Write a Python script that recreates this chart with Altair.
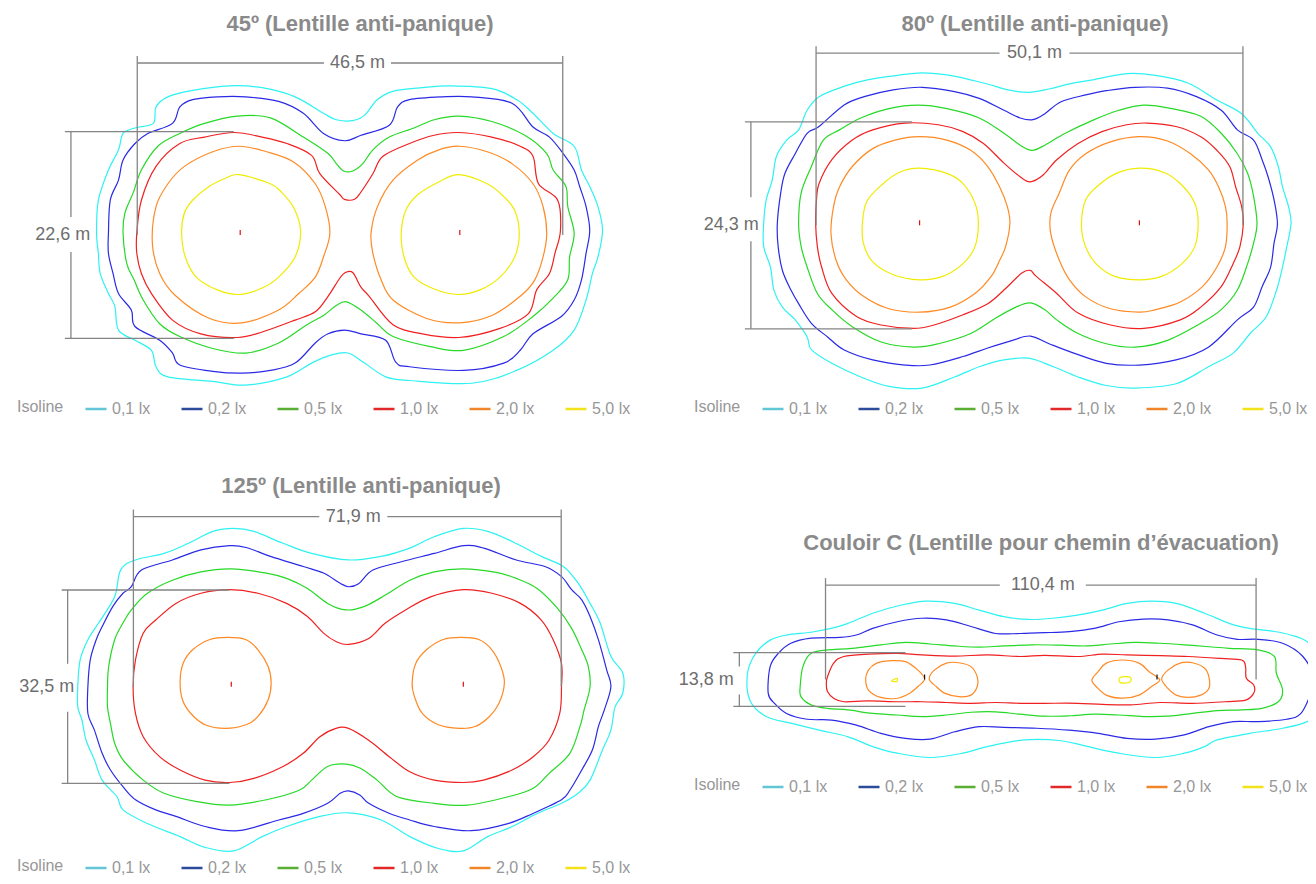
import altair as alt
import pandas as pd

# ---------------- data (metres, origin = midpoint between the two luminaires) -------------
LEVELS = ["0,1 lx", "0,2 lx", "0,5 lx", "1,0 lx", "2,0 lx", "5,0 lx"]
LINE_COLORS = ["#2ef2f2", "#2a2ae6", "#26d926", "#f02020", "#ff8a24", "#f0ec00"]
LEGEND_COLORS = ["#62c6d6", "#2c4b9b", "#5aae34", "#e3282a", "#f0852a", "#f2e21a"]

TITLES = ["45º (Lentille anti-panique)", "80º (Lentille anti-panique)",
          "125º (Lentille anti-panique)", "Couloir C (Lentille pour chemin d\u2019évacuation)"]
WIDTHS_M = [46.5, 50.1, 71.9, 110.4]
HEIGHTS_M = [22.6, 24.3, 32.5, 13.8]
LUMINAIRE_X = [12.0, 12.9, 19.5, 29.8]

# ---- panel A : 45 deg
A_01 = [(-27.7,0.2),(-27.5,3.8),(-26.4,7.1),(-25.3,9.3),(-24.8,11.1),(-23.5,11.7),(-21.5,12.2),(-21.2,14.0),(-19.9,15.1),(-17.2,15.8),(-13.2,16.3),(-9.6,16.1),(-6.0,15.1),(-2.9,13.3),(-1.5,12.6),(0.3,12.5),(1.6,13.1),(3.0,14.8),(4.7,15.7),(7.9,16.1),(11.0,16.3),(15.5,16.0),(18.2,14.8),(20.0,13.3),(22.2,11.1),(24.5,9.7),(25.3,7.1),(26.2,5.3),(27.1,3.1),(27.6,0.5),(27.1,-2.4),(26.5,-4.2),(25.8,-7.1),(24.5,-10.4),(22.2,-12.6),(18.2,-14.8),(13.3,-16.2),(6.5,-15.9),(3.9,-15.5),(1.6,-14.0),(-0.2,-12.9),(-2.0,-13.1),(-4.2,-14.0),(-6.9,-15.5),(-11.4,-16.4),(-15.0,-16.0),(-19.9,-15.5),(-21.2,-14.4),(-21.7,-12.6),(-23.5,-11.5),(-25.3,-10.4),(-25.7,-7.8),(-26.4,-6.4),(-27.3,-4.2),(-27.5,-2.0)]
A_02 = [(-26.4,0.2),(-26.2,3.8),(-25.3,6.0),(-24.8,8.2),(-23.5,10.0),(-22.1,11.1),(-19.4,12.2),(-18.6,14.0),(-17.2,14.8),(-14.5,15.1),(-11.4,15.1),(-7.8,14.6),(-5.1,13.3),(-2.9,11.1),(-0.6,10.3),(1.2,10.9),(4.3,12.0),(5.2,14.0),(6.5,14.8),(10.1,15.1),(13.3,15.1),(17.7,14.4),(20.0,11.8),(21.8,10.7),(23.3,8.9),(24.5,7.1),(25.1,5.3),(25.8,3.1),(26.2,0.5),(25.8,-2.0),(25.3,-4.9),(24.5,-7.1),(23.1,-8.9),(20.0,-10.8),(18.6,-12.6),(16.8,-14.0),(12.4,-14.8),(6.5,-14.4),(5.0,-13.9),(3.9,-11.5),(1.2,-10.8),(-0.6,-10.4),(-2.4,-10.8),(-3.8,-11.8),(-6.0,-14.0),(-8.7,-14.8),(-11.8,-15.1),(-15.0,-14.9),(-18.6,-14.2),(-19.4,-12.9),(-20.8,-11.5),(-23.5,-10.0),(-23.9,-8.2),(-25.3,-6.4),(-25.9,-4.2),(-26.4,-2.0)]
A_05 = [(-24.8,0.2),(-24.6,2.4),(-23.7,4.6),(-22.8,7.1),(-21.0,9.7),(-18.6,11.1),(-15.9,12.2),(-12.3,13.0),(-8.7,12.8),(-5.1,10.7),(-2.4,8.9),(-1.5,7.8),(-0.7,7.0),(0.3,7.0),(1.4,7.8),(2.5,9.3),(4.3,10.7),(7.0,11.7),(9.2,12.6),(11.9,13.0),(15.5,12.4),(19.1,10.9),(21.5,8.9),(22.2,7.1),(23.6,5.3),(23.8,3.1),(24.5,0.2),(24.0,-2.4),(23.8,-4.9),(22.2,-6.9),(20.0,-8.9),(16.8,-11.1),(12.4,-12.6),(8.8,-12.2),(4.7,-11.1),(3.0,-9.7),(1.2,-8.2),(-0.4,-7.3),(-1.5,-7.7),(-2.9,-8.8),(-4.7,-9.8),(-7.8,-11.8),(-11.4,-12.9),(-15.0,-12.4),(-18.6,-11.1),(-20.8,-9.7),(-22.6,-7.1),(-23.6,-4.9),(-24.4,-3.1)]
A_10 = [(-23.3,0.2),(-22.8,3.8),(-21.2,7.5),(-18.6,10.0),(-15.9,10.7),(-12.7,11.2),(-9.6,10.7),(-6.9,10.0),(-4.2,8.7),(-3.3,6.7),(-1.1,4.4),(-0.6,3.9),(0.5,3.9),(1.2,4.7),(2.5,6.7),(3.6,8.6),(6.5,10.0),(9.2,10.9),(11.9,11.2),(15.5,10.7),(18.6,9.7),(20.0,8.6),(20.6,5.6),(22.7,3.8),(23.0,0.5),(22.4,-2.0),(21.8,-4.2),(20.4,-6.0),(19.5,-8.6),(16.4,-10.2),(11.9,-11.2),(7.9,-10.8),(4.7,-9.8),(2.1,-6.7),(1.2,-5.7),(0.3,-4.1),(-0.5,-4.1),(-1.1,-4.7),(-2.4,-6.7),(-3.8,-8.4),(-6.0,-9.3),(-9.6,-10.6),(-12.3,-11.2),(-16.3,-10.8),(-19.4,-9.3),(-21.7,-6.4),(-22.8,-4.2),(-23.3,-2.0)]
A_20_L = [(-12.1,9.7),(-9.1,9.1),(-6.2,8.0),(-3.8,5.6),(-2.7,3.1),(-2.2,0.2),(-2.9,-2.4),(-3.8,-4.6),(-5.6,-6.4),(-7.8,-8.2),(-11.8,-9.6),(-15.4,-9.1),(-19.0,-6.7),(-20.8,-4.2),(-21.6,-0.9),(-21.2,3.1),(-19.9,5.6),(-18.1,7.5),(-15.0,9.1)]
A_20_R = [(11.9,9.7),(15.0,9.1),(17.7,7.8),(20.0,5.6),(21.1,3.1),(21.5,0.2),(21.1,-2.4),(20.2,-4.9),(18.6,-6.7),(15.5,-8.8),(11.9,-9.6),(8.3,-9.1),(4.7,-7.1),(3.4,-4.9),(2.5,-2.0),(2.3,0.2),(3.0,3.1),(4.7,6.0),(7.4,8.2),(9.7,9.3)]
A_50_L = [(-12.1,6.6),(-8.7,5.6),(-7.4,4.6),(-6.1,2.9),(-5.4,0.4),(-6.0,-2.4),(-7.8,-4.6),(-9.6,-5.8),(-12.1,-6.5),(-14.5,-6.0),(-16.8,-4.6),(-18.0,-2.4),(-18.4,0.2),(-18.1,2.4),(-17.2,3.8),(-15.4,5.3),(-13.6,6.2)]
A_50_R = [(11.9,6.6),(15.0,5.6),(16.8,4.2),(18.0,2.7),(18.5,0.2),(18.0,-2.4),(16.4,-4.6),(14.2,-6.0),(11.8,-6.5),(9.2,-5.9),(7.0,-4.6),(5.9,-2.4),(5.6,0.2),(6.1,2.7),(7.4,4.4),(9.7,5.8)]

# ---- panel B : 80 deg
B_01 = [(-31.2,0.2),(-30.9,3.0),(-30.2,5.3),(-29.7,8.1),(-28.5,10.0),(-27.1,11.2),(-26.1,13.5),(-24.7,15.1),(-21.8,16.3),(-18.9,17.1),(-15.5,17.6),(-12.6,17.9),(-9.3,17.6),(-5.4,16.7),(-2.5,15.9),(-0.1,15.6),(2.3,16.0),(4.7,16.6),(7.6,17.1),(11.4,17.8),(14.8,17.6),(18.6,16.7),(22.0,14.7),(24.9,13.1),(26.8,10.8),(28.3,9.2),(29.2,6.9),(29.7,4.5),(30.4,2.2),(30.7,0.2),(30.2,-2.5),(29.7,-4.9),(29.0,-7.6),(27.8,-10.7),(25.9,-12.7),(23.9,-15.0),(21.0,-16.6),(17.2,-18.6),(12.4,-19.1),(9.0,-18.8),(5.7,-17.8),(2.8,-16.6),(-0.1,-15.6),(-3.0,-15.8),(-5.9,-16.6),(-8.8,-17.8),(-12.6,-19.1),(-16.5,-18.9),(-19.8,-17.8),(-23.2,-16.2),(-25.6,-14.6),(-26.1,-13.1),(-27.5,-11.1),(-29.0,-9.6),(-30.0,-7.6),(-30.4,-4.9),(-31.2,-2.5)]
B_02 = [(-29.6,0.2),(-29.2,3.8),(-28.7,6.1),(-27.5,8.4),(-26.1,10.8),(-24.7,11.6),(-21.8,14.1),(-19.4,15.1),(-16.0,15.9),(-12.6,16.2),(-8.8,15.7),(-5.9,14.9),(-3.0,13.5),(-1.1,12.6),(0.4,12.4),(1.8,13.1),(3.7,14.5),(6.6,15.3),(9.0,15.8),(12.4,16.2),(16.2,16.1),(19.6,15.1),(22.5,13.5),(24.4,11.2),(26.3,10.0),(27.3,7.7),(28.0,5.7),(28.7,3.0),(29.1,0.2),(28.7,-2.1),(28.3,-4.9),(27.3,-7.2),(26.3,-9.6),(24.4,-11.1),(21.0,-14.3),(17.2,-15.8),(12.9,-16.4),(9.0,-16.2),(5.2,-15.0),(2.3,-13.9),(0.1,-13.0),(-2.0,-13.5),(-4.9,-14.4),(-7.8,-15.4),(-11.7,-16.4),(-14.6,-16.4),(-18.4,-15.8),(-21.8,-14.6),(-23.7,-13.1),(-25.6,-11.5),(-27.1,-9.2),(-28.0,-7.6),(-29.0,-5.3),(-29.5,-2.5)]
B_05 = [(-27.1,0.2),(-26.8,3.8),(-25.6,6.9),(-24.2,10.0),(-22.3,11.2),(-19.8,12.6),(-16.5,13.7),(-13.1,14.1),(-9.7,13.7),(-5.9,12.6),(-3.0,10.8),(-1.1,9.4),(0.3,8.8),(1.8,9.4),(4.2,10.8),(7.6,12.4),(10.5,13.5),(13.4,14.1),(16.7,13.7),(20.1,12.8),(22.5,10.8),(24.4,8.4),(25.6,6.1),(26.3,3.4),(26.7,0.2),(26.3,-2.1),(25.6,-4.5),(24.4,-7.6),(22.5,-9.9),(20.1,-11.5),(16.2,-13.5),(12.4,-14.3),(9.0,-13.9),(5.7,-12.7),(3.2,-11.1),(1.8,-9.9),(0.1,-9.1),(-1.6,-9.6),(-4.0,-10.9),(-6.9,-12.7),(-10.7,-13.9),(-13.6,-14.3),(-17.4,-13.7),(-20.8,-11.9),(-23.2,-9.9),(-24.9,-8.0),(-26.1,-4.9),(-26.8,-2.5)]
B_10 = [(-25.1,0.2),(-25.0,3.0),(-24.7,4.9),(-23.2,7.7),(-20.8,10.0),(-18.4,11.2),(-14.6,12.0),(-10.7,11.8),(-7.8,11.0),(-5.4,9.6),(-3.0,7.3),(-1.1,5.7),(0.1,5.1),(1.6,5.9),(3.2,7.7),(5.7,9.6),(8.5,11.0),(11.4,11.8),(13.8,12.0),(17.2,11.6),(20.1,10.4),(22.0,8.8),(23.5,6.9),(24.2,4.5),(24.9,2.2),(25.1,0.2),(24.7,-2.5),(23.9,-4.5),(22.5,-7.2),(20.1,-9.6),(17.7,-11.1),(13.4,-12.1),(9.5,-11.7),(5.7,-10.3),(3.2,-8.0),(0.8,-6.0),(0.1,-5.3),(-0.9,-5.6),(-3.0,-7.6),(-4.9,-9.2),(-7.8,-10.5),(-11.2,-11.7),(-13.6,-12.1),(-17.4,-11.7),(-20.3,-10.7),(-23.2,-8.0),(-24.4,-4.9),(-24.9,-2.5)]
B_20_L = [(-12.9,10.4),(-9.7,10.0),(-6.9,8.8),(-4.9,6.9),(-3.5,4.5),(-2.6,2.2),(-2.3,0.2),(-2.8,-2.5),(-3.5,-4.1),(-4.5,-6.0),(-6.4,-8.0),(-9.3,-9.6),(-12.9,-10.2),(-16.5,-9.8),(-19.4,-8.4),(-21.5,-6.4),(-22.7,-4.1),(-23.3,-1.0),(-23.0,2.2),(-22.3,4.5),(-20.8,6.9),(-18.4,9.0),(-15.8,10.0)]
B_20_R = [(12.9,10.4),(16.2,9.9),(18.9,8.4),(21.0,6.5),(22.2,4.5),(23.0,2.2),(23.2,0.2),(23.0,-2.5),(22.0,-4.9),(20.3,-7.2),(17.7,-9.0),(14.8,-9.9),(12.9,-10.2),(9.5,-9.8),(6.6,-8.4),(4.7,-6.4),(3.5,-4.1),(2.5,-1.0),(2.5,1.4),(3.5,3.8),(4.7,6.5),(6.6,8.4),(9.5,9.8)]
B_50_L = [(-12.9,6.7),(-9.7,6.1),(-7.8,4.9),(-6.4,2.6),(-6.0,0.2),(-6.4,-2.5),(-7.8,-4.5),(-10.2,-6.0),(-12.9,-6.4),(-16.0,-5.8),(-18.4,-4.3),(-19.5,-2.1),(-19.6,0.4),(-19.1,2.8),(-17.4,4.7),(-15.3,6.2)]
B_50_R = [(12.9,6.7),(15.8,6.2),(17.9,4.7),(19.4,2.6),(19.8,0.2),(19.4,-2.5),(17.9,-4.5),(15.5,-6.0),(12.9,-6.4),(10.0,-6.0),(7.8,-4.5),(6.5,-2.3),(6.1,0.2),(6.6,3.0),(8.1,4.7),(10.2,6.1)]

# ---- panel C : 125 deg
C_01 = [(-45.3,0.0),(-44.9,4.5),(-43.6,7.9),(-41.8,10.7),(-39.1,15.1),(-38.1,19.6),(-35.6,21.3),(-30.8,22.4),(-26.7,24.1),(-22.6,26.1),(-19.1,26.6),(-15.7,26.1),(-10.8,24.1),(-6.0,22.4),(0.2,21.3),(5.7,21.9),(10.5,23.3),(14.6,25.2),(19.5,26.6),(23.6,26.1),(27.7,24.4),(32.6,21.9),(36.3,20.2),(38.8,17.4),(40.8,14.0),(42.5,10.7),(44.3,5.1),(46.3,2.3),(46.3,-1.1),(45.0,-3.4),(44.3,-7.3),(42.9,-10.6),(40.8,-15.7),(38.8,-17.9),(36.0,-19.6),(31.9,-21.3),(27.7,-23.5),(23.6,-25.2),(19.5,-27.6),(15.3,-27.2),(10.5,-25.2),(5.7,-22.4),(0.2,-21.2),(-4.6,-21.8),(-10.2,-23.5),(-14.3,-25.2),(-19.1,-27.6),(-23.9,-27.0),(-28.1,-25.2),(-33.6,-23.0),(-37.7,-20.7),(-38.7,-18.5),(-41.2,-15.7),(-42.5,-12.3),(-43.9,-9.0),(-44.6,-5.6),(-45.3,-3.4)]
C_02 = [(-43.6,0.0),(-43.2,4.5),(-42.2,7.9),(-41.2,10.1),(-39.4,13.5),(-37.7,15.7),(-36.3,16.8),(-34.6,19.6),(-29.4,21.3),(-24.6,23.0),(-19.8,23.7),(-17.0,23.4),(-12.9,21.9),(-7.4,20.2),(-4.0,19.1),(-1.2,17.4),(0.2,16.8),(1.9,17.3),(4.3,19.6),(9.1,21.0),(14.6,22.4),(19.5,23.7),(22.9,23.3),(28.4,21.3),(33.2,20.2),(36.0,18.5),(37.7,16.3),(39.4,14.6),(40.8,11.8),(42.2,7.9),(43.6,2.8),(44.3,0.0),(43.2,-3.9),(42.2,-6.7),(41.2,-10.6),(39.4,-14.0),(37.4,-17.4),(36.0,-19.0),(31.2,-21.3),(27.0,-23.0),(20.8,-24.2),(14.6,-23.5),(10.5,-22.4),(7.1,-21.3),(3.6,-19.6),(2.1,-18.2),(0.2,-17.5),(-1.2,-17.9),(-3.3,-19.6),(-7.4,-21.3),(-11.5,-22.4),(-18.4,-24.2),(-23.9,-23.5),(-28.8,-21.8),(-32.2,-20.7),(-35.6,-19.0),(-37.7,-16.8),(-39.8,-14.0),(-41.2,-11.2),(-42.5,-7.3),(-43.6,-4.5)]
C_05 = [(-40.3,0.0),(-40.1,3.4),(-39.1,7.9),(-37.7,10.7),(-36.3,12.9),(-33.6,15.7),(-29.4,17.9),(-24.6,19.3),(-19.5,19.8),(-13.6,19.1),(-10.2,18.2),(-6.7,16.5),(-3.3,14.0),(-0.2,12.9),(2.9,13.5),(6.4,15.4),(10.5,17.9),(14.6,19.3),(19.5,19.8),(25.0,19.2),(28.4,18.2),(31.9,16.5),(35.3,13.2),(37.7,9.8),(39.4,6.2),(40.5,3.4),(40.8,0.0),(39.8,-3.9),(39.1,-6.7),(37.4,-11.2),(33.9,-14.6),(31.2,-17.1),(27.0,-18.5),(20.2,-19.9),(14.6,-19.6),(8.4,-18.5),(5.0,-15.7),(2.2,-13.7),(-0.2,-13.0),(-3.3,-13.4),(-6.0,-15.7),(-8.1,-17.4),(-13.6,-19.0),(-19.8,-19.9),(-25.3,-19.3),(-30.8,-17.9),(-34.3,-15.7),(-37.7,-12.3),(-39.1,-9.5),(-39.8,-6.2),(-40.3,-3.4)]
C_10 = [(-36.0,0.0),(-35.6,4.5),(-34.3,9.0),(-32.2,11.2),(-28.8,14.0),(-24.6,15.7),(-19.8,16.3),(-15.0,15.7),(-10.2,14.0),(-6.7,11.8),(-4.0,9.0),(-1.9,7.6),(0.2,7.1),(3.6,8.1),(6.4,10.7),(9.8,12.9),(14.0,15.1),(19.5,16.3),(24.3,15.7),(29.1,14.0),(32.6,11.2),(34.6,7.9),(36.0,3.9),(36.0,0.0),(35.7,-4.5),(33.9,-9.0),(31.2,-11.8),(27.7,-14.0),(22.9,-15.7),(19.5,-16.1),(14.6,-15.7),(10.5,-14.3),(7.1,-11.8),(3.6,-9.0),(0.2,-7.0),(-1.9,-7.0),(-4.6,-8.4),(-7.4,-11.2),(-10.8,-13.4),(-15.7,-15.4),(-19.8,-16.1),(-23.9,-15.7),(-28.1,-14.0),(-31.5,-11.8),(-34.3,-8.4),(-35.6,-4.5)]
C_20_L = [(-20.1,8.3),(-17.0,7.9),(-15.0,6.2),(-13.3,3.4),(-12.8,0.6),(-13.3,-2.2),(-15.0,-5.0),(-17.0,-6.4),(-20.5,-7.0),(-23.9,-6.4),(-26.3,-4.5),(-27.7,-2.2),(-28.1,0.9),(-27.6,3.9),(-26.0,6.2),(-23.2,7.9)]
C_20_R = [(19.1,8.3),(22.2,7.9),(24.3,6.2),(25.8,3.4),(26.4,0.6),(25.5,-2.8),(23.9,-5.0),(21.5,-6.7),(18.8,-7.0),(15.3,-6.4),(12.6,-4.5),(11.3,-1.7),(10.9,0.6),(11.5,3.9),(13.3,6.2),(16.0,7.9)]

# ---- panel D : corridor
D_01 = [(-75.2,1.6),(-73.1,6.7),(-69.4,10.1),(-65.2,11.4),(-57.8,12.3),(-50.5,14.0),(-43.1,17.0),(-35.7,19.1),(-29.4,20.1),(-22.1,19.5),(-15.8,17.8),(-9.5,16.1),(-3.2,15.4),(3.1,15.7),(9.4,16.5),(15.8,17.8),(22.1,19.5),(28.4,20.1),(34.7,19.5),(42.0,17.0),(48.3,14.4),(53.6,13.1),(59.9,12.3),(64.1,11.4),(68.3,9.7),(73.6,5.0),(76.2,-1.0),(73.6,-7.0),(68.3,-10.8),(62.0,-12.5),(53.6,-13.8),(45.2,-15.5),(42.0,-17.2),(36.8,-18.9),(29.4,-20.0),(20.0,-18.9),(11.6,-17.1),(5.2,-15.7),(-4.2,-15.5),(-13.7,-17.2),(-20.0,-18.9),(-28.4,-20.0),(-36.8,-18.9),(-43.1,-17.2),(-49.4,-14.7),(-56.8,-13.0),(-64.1,-11.2),(-70.4,-9.5),(-74.6,-5.3)]
D_02 = [(-69.9,-3.5),(-69.4,3.3),(-67.3,6.7),(-64.1,9.3),(-58.9,10.6),(-51.5,10.8),(-47.3,11.4),(-43.1,13.1),(-36.8,14.8),(-30.5,15.7),(-24.2,15.3),(-17.9,13.6),(-11.6,11.8),(-5.3,11.8),(1.0,12.0),(7.3,12.3),(13.7,13.1),(20.0,14.8),(26.3,15.5),(32.6,15.3),(38.9,14.0),(45.2,11.4),(50.4,10.3),(55.7,10.3),(62.0,9.3),(67.2,5.9),(70.4,-0.1),(69.3,-3.5),(66.7,-8.7),(63.0,-10.2),(55.7,-10.8),(49.4,-10.8),(43.1,-12.1),(36.8,-14.2),(29.4,-15.3),(22.1,-15.1),(14.7,-13.8),(7.3,-13.0),(-1.1,-12.5),(-9.5,-12.3),(-15.8,-12.1),(-22.1,-13.4),(-28.4,-15.3),(-34.7,-15.1),(-41.0,-13.8),(-47.3,-11.7),(-53.6,-10.4),(-59.9,-10.2),(-65.2,-8.7),(-68.3,-6.1)]
D_05 = [(-61.7,-1.8),(-61.0,3.3),(-58.9,6.7),(-54.7,7.6),(-48.4,8.0),(-41.0,8.9),(-34.7,9.5),(-28.4,9.1),(-22.1,8.6),(-15.8,8.3),(-9.5,8.6),(-2.1,8.9),(5.2,8.8),(11.6,8.6),(17.9,9.1),(24.2,9.5),(30.5,9.3),(36.8,8.9),(43.1,8.4),(48.3,8.0),(55.7,7.6),(59.9,5.9),(60.4,1.6),(62.0,-2.7),(60.9,-5.7),(56.7,-7.4),(51.5,-7.8),(45.2,-8.0),(38.9,-8.7),(32.6,-9.4),(26.3,-9.5),(20.0,-9.1),(13.7,-8.9),(7.3,-9.3),(1.0,-9.4),(-5.3,-8.9),(-11.6,-8.3),(-17.9,-8.4),(-24.2,-9.1),(-30.5,-9.5),(-36.8,-9.1),(-43.1,-8.7),(-49.4,-7.8),(-54.7,-7.4),(-58.9,-6.5),(-61.5,-4.4)]
D_10 = [(-55.0,-1.0),(-54.7,0.7),(-53.1,4.2),(-50.5,5.9),(-44.2,6.5),(-36.8,6.7),(-30.5,6.3),(-22.1,6.0),(-13.7,6.3),(-5.3,5.9),(1.0,6.2),(9.4,5.9),(15.8,6.5),(22.1,6.3),(30.5,6.1),(37.8,5.9),(46.2,5.4),(51.5,5.0),(52.5,3.3),(52.7,0.3),(54.6,-1.4),(54.6,-3.5),(52.5,-5.3),(47.3,-5.7),(38.9,-6.1),(30.5,-5.9),(23.1,-6.5),(15.8,-6.4),(9.4,-6.1),(1.0,-6.1),(-5.3,-6.1),(-11.6,-5.9),(-17.9,-6.1),(-24.2,-5.9),(-30.5,-5.7),(-36.8,-5.7),(-44.2,-5.5),(-50.5,-5.7),(-53.1,-4.8),(-54.7,-3.1)]
D_20_LL = [(-38.9,4.8),(-34.7,4.6),(-31.5,2.4),(-29.8,0.1),(-31.5,-1.8),(-33.6,-3.5),(-36.8,-4.8),(-41.0,-4.6),(-44.2,-2.7),(-44.9,0.1),(-44.2,2.4),(-42.1,4.2)]
D_20_LR = [(-28.6,0.1),(-27.3,2.4),(-24.2,4.2),(-21.0,4.3),(-17.9,3.3),(-16.3,0.7),(-16.3,-1.8),(-17.9,-4.0),(-21.0,-4.4),(-24.7,-3.5),(-26.8,-1.8)]
D_20_RL = [(21.0,5.0),(25.2,4.2),(27.8,2.0),(30.5,-0.1),(28.4,-1.8),(25.2,-4.0),(21.0,-4.8),(16.8,-4.0),(14.2,-1.8),(13.1,-0.1),(14.7,2.0),(16.8,4.2)]
D_20_RR = [(31.0,0.1),(32.6,2.4),(35.7,4.2),(38.9,4.3),(42.0,2.9),(43.1,0.7),(43.1,-2.3),(41.0,-4.0),(37.8,-4.6),(34.7,-4.0),(32.6,-2.3)]
D_50_L = [(-38.3,-0.4),(-36.9,0.3),(-36.9,-0.5)]
D_50_R = [(20.3,0.5),(22.9,0.6),(22.8,-0.7),(20.4,-0.8)]

CONTOURS = [
    {"0,1 lx": [A_01], "0,2 lx": [A_02], "0,5 lx": [A_05], "1,0 lx": [A_10],
     "2,0 lx": [A_20_L, A_20_R], "5,0 lx": [A_50_L, A_50_R]},
    {"0,1 lx": [B_01], "0,2 lx": [B_02], "0,5 lx": [B_05], "1,0 lx": [B_10],
     "2,0 lx": [B_20_L, B_20_R], "5,0 lx": [B_50_L, B_50_R]},
    {"0,1 lx": [C_01], "0,2 lx": [C_02], "0,5 lx": [C_05], "1,0 lx": [C_10],
     "2,0 lx": [C_20_L, C_20_R]},
    {"0,1 lx": [D_01], "0,2 lx": [D_02], "0,5 lx": [D_05], "1,0 lx": [D_10],
     "2,0 lx": [D_20_LL, D_20_LR, D_20_RL, D_20_RR], "5,0 lx": [D_50_L, D_50_R]},
]

# ---------------- layout (pixels / styling only) -------------------------------------------
W, H = 1300, 868
LAYOUT = [
    dict(s=9.15, cx=350.0, cy=235.0, hy=18.8, vx=-30.5, vend=-12.7, vlab=-31.4,
         hgap=(-26, 41), vgap=(18, 17), title=(352, 23), legend=(9, 389), lum="#e01010"),
    dict(s=8.52, cx=1029.5, cy=225.3, hy=20.2, vx=-32.7, vend=-13.8, vlab=-35.0,
         hgap=(-30, 40), vgap=(28, 16), title=(1027, 23), legend=(686, 389), lum="#e01010"),
    dict(s=5.95, cx=347.3, cy=686.7, hy=28.6, vx=-47.0, vend=-19.8, vlab=-50.5,
         hgap=(-28, 40), vgap=(23, 25), title=(353, 485), legend=(9, 848), lum="#e01010"),
    dict(s=3.90, cx=1040.8, cy=679.5, hy=24.2, vx=-77.3, vend=-34.7, vlab=-85.8,
         hgap=(-41, 45), vgap=(13, 15), title=(1033, 542), legend=(686, 767), lum="#111111"),
]

SANS = "'Liberation Sans', Arial, Helvetica, sans-serif"


def fmt_m(v):
    return f"{v:.1f}".replace(".", ",") + " m"


def contour_frame(levels):
    rows = []
    for level, curves in levels.items():
        for ci, pts in enumerate(curves):
            for i, (x, y) in enumerate(pts):
                rows.append({"level": level, "curve": f"{level}#{ci}", "i": i, "x": x, "y": y})
    return pd.DataFrame(rows)


def panel(k):
    L = LAYOUT[k]
    s = L["s"]
    x0 = -(L["cx"] - 8) / s
    y1 = (L["cy"] - 8) / s
    xsc = alt.Scale(domain=[x0, x0 + W / s], nice=False, zero=False)
    ysc = alt.Scale(domain=[y1 - H / s, y1], nice=False, zero=False)
    X = alt.X("x:Q", scale=xsc, axis=None)
    Y = alt.Y("y:Q", scale=ysc, axis=None)

    cont = alt.Chart(contour_frame(CONTOURS[k])).mark_line(
        interpolate="cardinal-closed", strokeWidth=1.2
    ).encode(
        x=X, y=Y, detail="curve:N", order=alt.Order("i:Q"),
        stroke=alt.Stroke("level:N", scale=alt.Scale(domain=LEVELS, range=LINE_COLORS), legend=None),
    )

    w2, h2 = WIDTHS_M[k] / 2, HEIGHTS_M[k] / 2
    hy, vx = L["hy"], L["vx"]
    gl, gr = L["hgap"]
    gt, gb = L["vgap"]
    segs = pd.DataFrame([
        dict(x=-w2, y=hy, x2=gl / s, y2=hy),
        dict(x=gr / s, y=hy, x2=w2, y2=hy),
        dict(x=-w2, y=0, x2=-w2, y2=hy + 7 / s),
        dict(x=w2, y=0, x2=w2, y2=hy + 7 / s),
        dict(x=vx, y=-h2, x2=vx, y2=-gb / s),
        dict(x=vx, y=gt / s, x2=vx, y2=h2),
        dict(x=vx - 6 / s, y=h2, x2=L["vend"], y2=h2),
        dict(x=vx - 6 / s, y=-h2, x2=L["vend"], y2=-h2),
    ])
    dims = alt.Chart(segs).mark_rule(color="#858585", strokeWidth=1.3).encode(
        x=X, y=Y, x2="x2:Q", y2="y2:Q")

    labs = pd.DataFrame([
        dict(x=(gl + gr) / 2 / s, y=hy, t=fmt_m(WIDTHS_M[k])),
        dict(x=L["vlab"], y=0.0, t=fmt_m(HEIGHTS_M[k])),
    ])
    dimtext = alt.Chart(labs).mark_text(
        font=SANS, fontSize=18, color="#6e6e6e", baseline="middle", align="center"
    ).encode(x=X, y=Y, text="t:N")

    lum = pd.DataFrame({"x": [-LUMINAIRE_X[k], LUMINAIRE_X[k]], "y": [0.0, 0.0],
                        "y2": [5 / s, 5 / s]})
    lums = alt.Chart(lum).mark_rule(color=L["lum"], strokeWidth=1.2).encode(x=X, y=Y, y2="y2:Q")

    title = alt.Chart(pd.DataFrame({"t": [TITLES[k]]})).mark_text(
        font=SANS, fontSize=22, fontWeight="bold", color="#8a8a8a",
        align="center", baseline="alphabetic"
    ).encode(x=alt.value(L["title"][0]), y=alt.value(L["title"][1]), text="t:N")

    leg = alt.Chart(pd.DataFrame({"level": LEVELS, "x": [0.0] * 6, "y": [0.0] * 6})).mark_line().encode(
        x=X, y=Y,
        color=alt.Color("level:N", scale=alt.Scale(domain=LEVELS, range=LEGEND_COLORS),
                        legend=alt.Legend(
                            orient="none", legendX=L["legend"][0], legendY=L["legend"][1],
                            direction="horizontal", title="Isoline", titleOrient="left",
                            titleFont=SANS, titleFontSize=16, titleFontWeight="normal",
                            titleColor="#979797", titlePadding=20, titleBaseline="middle",
                            labelFont=SANS, labelFontSize=16, labelColor="#979797",
                            labelOffset=4, symbolType="stroke", symbolSize=441,
                            symbolStrokeWidth=2.5, columnPadding=25, padding=0,
                        )),
    )
    return alt.layer(cont, dims, dimtext, lums, title, leg)


chart = alt.layer(*[panel(k) for k in range(4)]).resolve_scale(
    x="independent", y="independent", color="independent"
).resolve_legend(color="independent").properties(
    width=W, height=H, padding=0, background="white",
    autosize=alt.AutoSizeParams(type="none"),
).configure_view(stroke=None)

chart.save("out.html", embed_options={"renderer": "svg", "actions": False})
